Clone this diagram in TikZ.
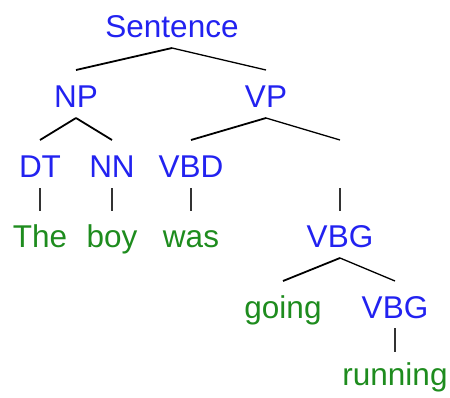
\documentclass[tikz,border=0pt]{standalone}
\usepackage{fontspec}
\setmainfont{Liberation Sans}
\usetikzlibrary{calc}
\definecolor{catblue}{RGB}{34,34,240}
\definecolor{wordgreen}{RGB}{30,140,30}
\begin{document}
\begin{tikzpicture}[x=1pt,y=-1pt,
  lab/.style={anchor=base,inner sep=0pt,font=\fontsize{31.5}{36}\selectfont},
  cat/.style={lab,text=catblue},
  word/.style={lab,text=wordgreen},
  lbr/.style={line width=1.8pt,black},
  rbr/.style={line width=1.3pt,black},
  vbr/.style={line width=1.3pt,black!80}]
\useasboundingbox (0,0) rectangle (450,397);
% nodes (base points in pixel coords, y down)
\node[cat] (S) at (172,37) {Sentence};
\node[cat] (NP) at (76,107) {NP};
\node[cat] (VP) at (266,107) {VP};
\node[cat] (DT) at (40,177) {DT};
\node[cat] (NN) at (112,177) {NN};
\node[cat] (VBD) at (191,177) {VBD};
\coordinate (E) at (340,177);
\node[word] (The) at (40,247) {The};
\node[word] (boy) at (112,247) {boy};
\node[word] (was) at (191,247) {was};
\node[cat] (VBG) at (340,247) {VBG};
\node[word] (going) at (283,318) {going};
\node[cat] (VBGb) at (395,318) {VBG};
\node[word] (running) at (395,385) {running};
% connectors
\draw[lbr] ($(S.base)+(0,11)$) -- ($(NP.base)+(0,-37)$);
\draw[rbr] ($(S.base)+(0,11)$) -- ($(VP.base)+(0,-37)$);
\draw[lbr] ($(NP.base)+(0,11)$) -- ($(DT.base)+(0,-37)$);
\draw[lbr] ($(NP.base)+(0,11)$) -- ($(NN.base)+(0,-37)$);
\draw[lbr] ($(VP.base)+(0,11)$) -- ($(VBD.base)+(0,-37)$);
\draw[rbr] ($(VP.base)+(0,11)$) -- ($(E)+(0,-37)$);
\draw[vbr] ($(DT.base)+(0,11)$) -- ($(The.base)+(0,-36)$);
\draw[vbr] ($(NN.base)+(0,11)$) -- ($(boy.base)+(0,-36)$);
\draw[vbr] ($(VBD.base)+(0,11)$) -- ($(was.base)+(0,-36)$);
\draw[vbr] ($(E)+(0,11)$) -- ($(VBG.base)+(0,-36)$);
\draw[lbr] ($(VBG.base)+(0,11)$) -- ($(going.base)+(0,-37)$);
\draw[rbr] ($(VBG.base)+(0,11)$) -- ($(VBGb.base)+(0,-37)$);
\draw[vbr] ($(VBGb.base)+(0,10)$) -- ($(running.base)+(0,-33)$);
\end{tikzpicture}
\end{document}
